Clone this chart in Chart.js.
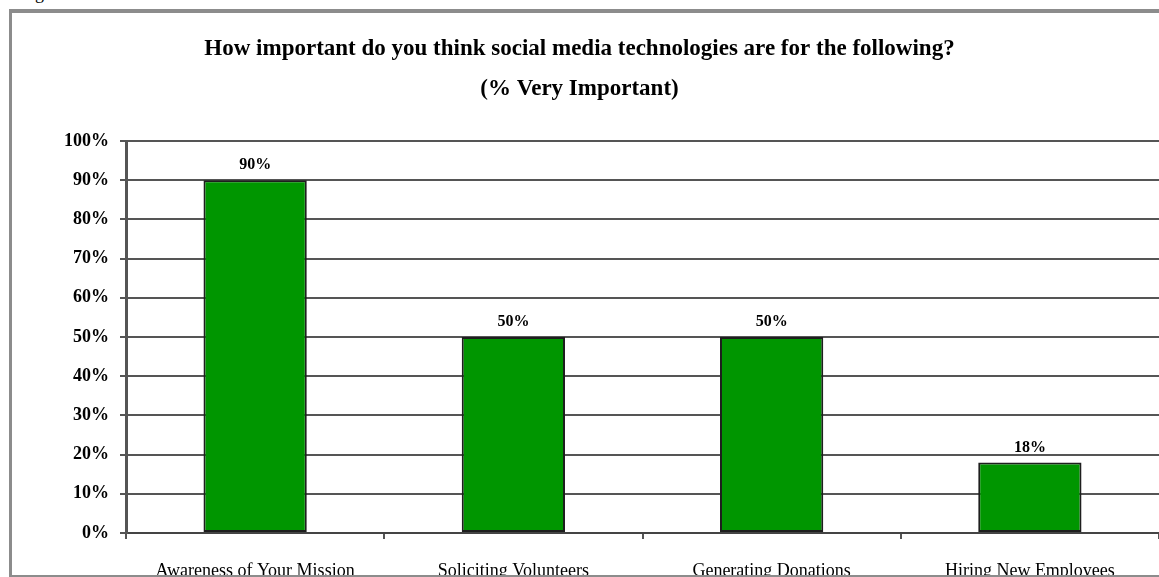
<!DOCTYPE html>
<html>
<head>
<meta charset="utf-8">
<script src="https://cdn.jsdelivr.net/npm/chart.js@4"></script>
<style>
  html, body { margin: 0; padding: 0; background: #fff; overflow: hidden; }
  #figLabel { position: absolute; left: 20px; top: -17px; font: 18px 'Liberation Serif', 'Times New Roman', serif; color: #000; }
  #frame { position: absolute; left: 9px; top: 9px; width: 1200px; height: 568px; box-sizing: border-box; z-index: 2;
           border-left: 3px solid #8c8c8c; border-top: 4px solid #8c8c8c; border-bottom: 2px solid #8c8c8c; }
  #wrap { position: absolute; left: 0; top: 0; width: 1159px; height: 577px; z-index: 1; }
</style>
</head>
<body>
<div id="figLabel">Figure</div>
<div id="frame"></div>
<div id="wrap"><canvas id="impChart"></canvas></div>
<script>
// Daten aus der Grafik
const kategorien = ["Awareness of Your Mission", "Soliciting Volunteers", "Generating Donations", "Hiring New Employees"];
const werte = [90, 50, 50, 18]; // % Very Important
const titelZeilen = ["How important do you think social media technologies are for the following?", "(% Very Important)"];
const yMax = 100;
const yStep = 10;

const SERIF = "'Liberation Serif', 'Times New Roman', serif";

// Prozentwerte über den Balken
const wertLabels = {
  id: 'wertLabels',
  afterDatasetsDraw(chart) {
    const ctx = chart.ctx;
    const meta = chart.getDatasetMeta(0);
    ctx.save();
    ctx.font = "bold 16px " + SERIF;
    ctx.fillStyle = "#000";
    ctx.textAlign = "center";
    ctx.textBaseline = "middle";
    meta.data.forEach((bar, i) => {
      ctx.fillText(werte[i] + "%", bar.x, bar.y - 15);
    });
    ctx.restore();
  }
};

new Chart(document.getElementById('impChart'), {
  type: 'bar',
  data: {
    labels: kategorien,
    datasets: [{
      data: werte,
      backgroundColor: '#009600',
      borderColor: '#1e1e1e',
      borderWidth: 2,
      borderSkipped: false,
      barPercentage: 0.4,
      categoryPercentage: 1
    }]
  },
  options: {
    responsive: true,
    maintainAspectRatio: false,
    animation: false,
    devicePixelRatio: 1,
    layout: { padding: 0 },
    plugins: {
      legend: { display: false },
      tooltip: { enabled: false },
      title: {
        display: true,
        text: titelZeilen,
        color: '#000',
        font: { family: SERIF, size: 23, weight: 'bold', lineHeight: '40px' },
        padding: { top: 29, bottom: 32 }
      }
    },
    scales: {
      x: {
        afterFit: (scale) => { scale.height = 44; },
        grid: { offset: true, drawOnChartArea: false, drawTicks: true, tickLength: 6, color: '#555', lineWidth: 2 },
        border: { color: '#444', width: 2 },
        ticks: { color: '#000', padding: 21, font: { family: SERIF, size: 18 } }
      },
      y: {
        min: 0,
        max: yMax,
        afterFit: (scale) => { scale.width = 126; },
        grid: { color: '#555', lineWidth: 2, tickLength: 6 },
        border: { color: '#555', width: 3 },
        ticks: {
          stepSize: yStep,
          color: '#000',
          padding: 11,
          font: { family: SERIF, size: 18, weight: 'bold' },
          callback: (v) => v + '%'
        }
      }
    }
  },
  plugins: [wertLabels]
});
</script>
</body>
</html>
